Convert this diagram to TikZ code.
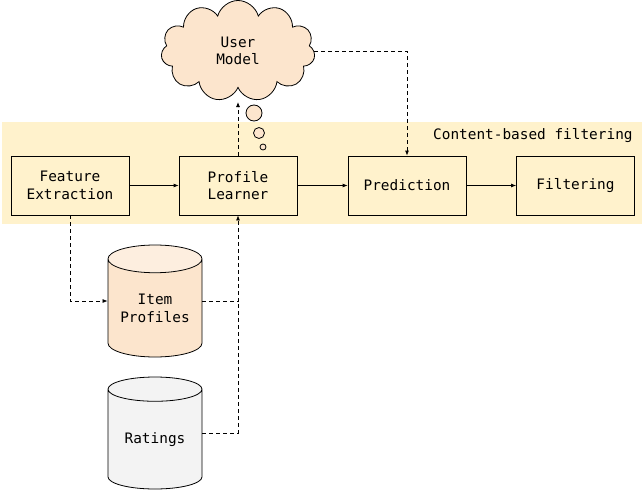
\documentclass[tikz,border=0pt]{standalone}
\usepackage{fontspec}
\setmonofont{DejaVu Sans Mono}
\usetikzlibrary{shapes.geometric,shapes.symbols,arrows.meta}
\definecolor{bandyellow}{HTML}{FFF2CC}
\definecolor{peach}{HTML}{FCE5CD}
\definecolor{peachtop}{HTML}{FDEEDF}
\definecolor{lightgrey}{HTML}{F3F3F3}

\begin{document}
\begin{tikzpicture}[x=1pt,y=-1pt,line width=0.8pt]
      \tikzstyle{every node}=[font=\ttfamily\fontsize{14.4}{17.7}\selectfont,
			      align=center,inner sep=0pt]
      \tikzstyle{stage}=[draw,fill=bandyellow,minimum width=118pt,
			      minimum height=59pt]
      \tikzstyle{store}=[draw,cylinder,shape border rotate=90,shape aspect=0.4,
			      minimum width=94pt,minimum height=112pt,
			      cylinder uses custom fill,anchor=shape center]
      \tikzstyle{bubble}=[draw,circle,fill=peach]
      \tikzstyle{flow}=[-{Latex[length=5pt,width=4pt]}]
      \tikzstyle{link}=[dash pattern=on 4pt off 3pt]
      \useasboundingbox (0,0) rectangle (644,492);
      % band
      \fill[bandyellow] (2,122) rectangle (642,224);
      \node (bandlabel) [anchor=east] at (633,136) {Content-based filtering};
      % stages
      \node (feature) [stage] at (70,185.5) {Feature\\Extraction};
      \node (learner) [stage] at (238,185.5) {Profile\\Learner};
      \node (predict) [stage] at (407,185.5) {Prediction};
      \node (filter) [stage] at (575.5,185.5) {Filtering};
      % user model
      \node (usermodel) [draw,cloud,cloud puffs=11,fill=peach,
	  minimum width=154pt,minimum height=101pt] at (238,51) {User\\Model};
      \coordinate (modelbase) at (238,102);
      \node (bubble1) [bubble,minimum size=16pt] at (254,113) {};
      \node (bubble2) [bubble,minimum size=11pt] at (259,133) {};
      \node (bubble3) [bubble,minimum size=6pt] at (263,147) {};
      % stores
      \node (items) [store,cylinder body fill=peach,cylinder end fill=peachtop]
	  at (155,301) {Item\\Profiles};
      \node (ratings) [store,cylinder body fill=lightgrey,
	  cylinder end fill=lightgrey] at (155,433) {Ratings};
      % connectors
      \draw[flow] (feature) -- (learner);
      \draw[flow] (learner) -- (predict);
      \draw[flow] (predict) -- (filter);
      \draw[flow,link] (learner.north) -- (modelbase);
      \draw[flow,link] (usermodel.east) -| (predict.north);
      \draw[flow,link] (feature.south) |- (items.west |- items.shape center);
      \draw[flow,link] (items.east |- items.shape center) -| (learner.south);
      \draw[link] (ratings.east |- ratings.shape center)
	  -| (learner.south |- items.shape center);
  \end{tikzpicture}
\end{document}
